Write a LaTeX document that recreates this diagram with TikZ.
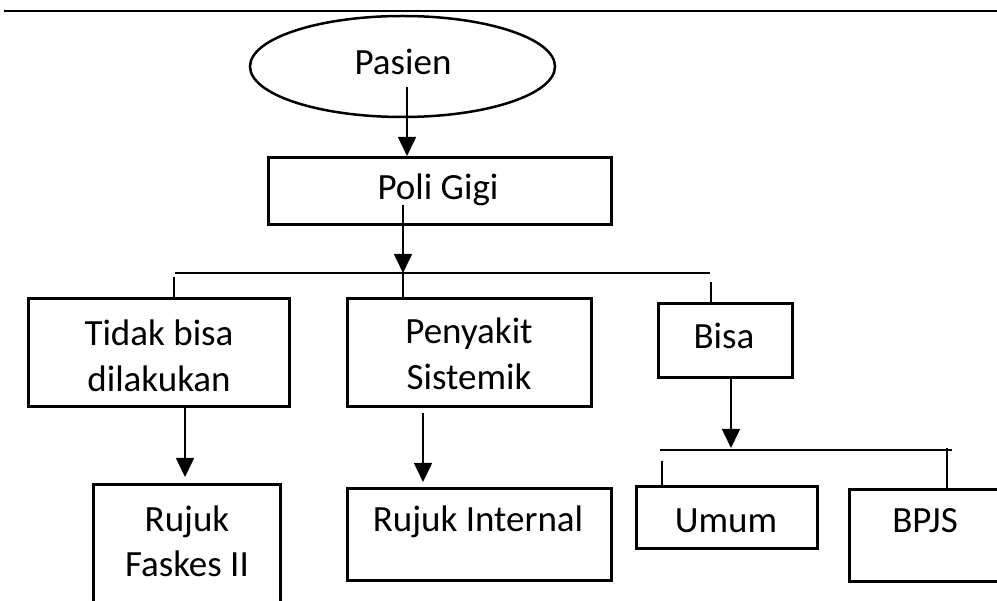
\documentclass[tikz,border=0pt]{standalone}
\usepackage{fontspec}
\setmainfont{Carlito}
\usetikzlibrary{shapes.geometric,arrows.meta}
\tikzset{
  box/.style={draw=black, line width=3pt, rectangle, inner sep=0pt},
  oval/.style={draw=black, line width=2.5pt, ellipse, inner sep=0pt},
  lbl/.style={font=\fontsize{37}{46}\selectfont, inner sep=0pt, anchor=base, align=center},
  conn/.style={draw=black, line width=1.6pt},
  arr/.style={conn, -{Triangle[width=18pt,length=19pt]}},
}
\begin{document}
\begin{tikzpicture}[x=1pt,y=-1pt]
\clip (0,0) rectangle (997,601);
\fill[white] (0,0) rectangle (997,601);
% top rule
\coordinate (rl) at (4,11);
\coordinate (rr) at (997,11);
\draw[line width=2pt] (rl) -- (rr);
% shapes
\node[oval, minimum width=305pt, minimum height=101pt] (pasien) at (402.5,66.5) {};
\node[box, minimum width=343pt, minimum height=67pt] (poli) at (440,191) {};
\node[box, minimum width=261pt, minimum height=108pt] (tidak) at (159,352.5) {};
\node[box, minimum width=244pt, minimum height=108pt] (peny) at (469.5,352.5) {};
\node[box, minimum width=134pt, minimum height=74pt] (bisa) at (725.5,340.5) {};
\node[box, minimum width=187pt, minimum height=156pt] (faskes) at (187,562.5) {};
\node[box, minimum width=264pt, minimum height=92pt] (internal) at (479.5,534.5) {};
\node[box, minimum width=181pt, minimum height=62pt] (umum) at (727,517.5) {};
\node[box, minimum width=151pt, minimum height=92pt] (bpjs) at (925,535.5) {};
% texts (base anchor = baseline of the last line)
\node[lbl] (tPasien) at (403,75) {Pasien};
\node[lbl] (tPoli) at (438,200) {Poli Gigi};
\node[lbl] (tTidak) at (159,392) {Tidak bisa\\dilakukan};
\node[lbl] (tPeny) at (469,390) {Penyakit\\Sistemik};
\node[lbl] (tBisa) at (724,349) {Bisa};
\node[lbl] (tFaskes) at (187,577) {Rujuk\\Faskes II};
\node[lbl] (tInternal) at (478,532) {Rujuk Internal};
\node[lbl] (tUmum) at (726,533) {Umum};
\node[lbl] (tBpjs) at (925,533) {BPJS};
% connector points
\coordinate (p1) at (407,87);
\coordinate (p2) at (403,205);
\coordinate (b1l) at (175,273);
\coordinate (b1r) at (710,273);
\coordinate (b1m) at (403,273);
\coordinate (d1) at (174,277);
\coordinate (d3) at (711,282);
\coordinate (tdown) at (185,408);
\coordinate (ttip) at (185,477);
\coordinate (pdown) at (423,413);
\coordinate (ptip) at (423,482);
\coordinate (bdown) at (731,379);
\coordinate (btip) at (731,448);
\coordinate (b2l) at (660,450);
\coordinate (b2r) at (952,450);
\coordinate (d4) at (662,461);
\coordinate (d5) at (947,448);
% connectors
\draw[arr] (p1) -- (p1 |- poli.north);
\draw[arr] (p2) -- (p2 |- b1l);
\draw[conn] (b1l) -- (b1r);
\draw[conn] (d1) -- (d1 |- tidak.north);
\draw[conn] (b1m) -- (b1m |- peny.north);
\draw[conn] (d3) -- (d3 |- bisa.north);
\draw[arr] (tdown) -- (ttip);
\draw[arr] (pdown) -- (ptip);
\draw[arr] (bdown) -- (btip);
\draw[conn] (b2l) -- (b2r);
\draw[conn] (d4) -- (d4 |- umum.north);
\draw[conn] (d5) -- (d5 |- bpjs.north);
\end{tikzpicture}
\end{document}
